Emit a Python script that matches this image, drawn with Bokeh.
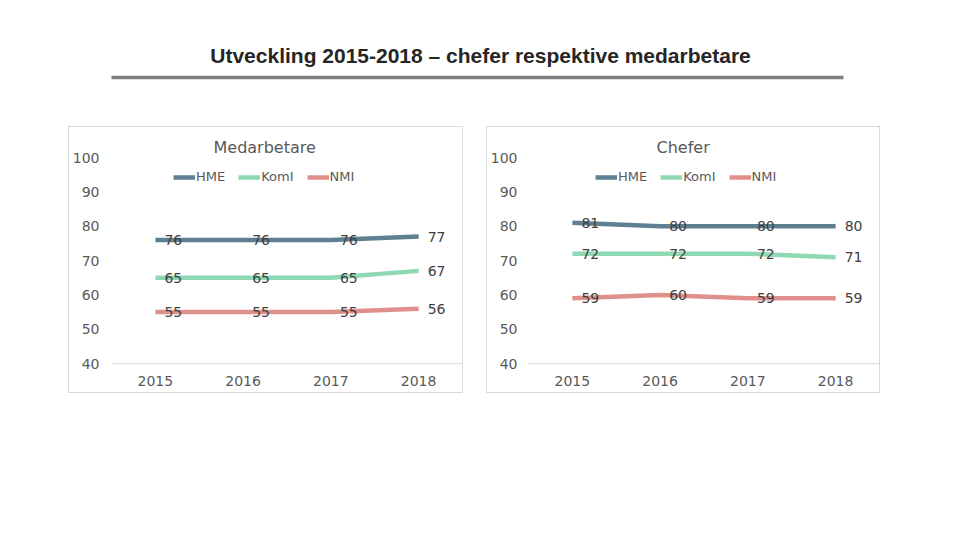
from bokeh.plotting import figure
from bokeh.models import (Range1d, FactorRange, FixedTicker, Legend, LegendItem,
                          Label, Spacer, Title, ColumnDataSource, Span)
from bokeh.layouts import column, row
from bokeh.core.properties import value
from bokeh.embed import file_html
from bokeh.resources import INLINE

# ---------------- data ----------------
years = ["2015", "2016", "2017", "2018"]
series_names = ["HME", "KomI", "NMI"]
medarbetare_hme = [76, 76, 76, 77]
medarbetare_komi = [65, 65, 65, 67]
medarbetare_nmi = [55, 55, 55, 56]
chefer_hme = [81, 80, 80, 80]
chefer_komi = [72, 72, 72, 71]
chefer_nmi = [59, 60, 59, 59]
y_ticks = [40, 50, 60, 70, 80, 90, 100]

main_title = "Utveckling 2015-2018 \u2013 chefer respektive medarbetare"

colors = ["#5f7f92", "#8fd8b4", "#e0908c"]
FONT = "DejaVu Sans"
GRID = "#d9d9d9"
TXT = "#595959"
H = 265  # inner canvas height (box border adds 2px)


def make_chart(title, series, width, left_border, legend_x, title_offset, ystandoff):
    p = figure(width=width, height=H, x_range=FactorRange(*years, range_padding=0),
               y_range=Range1d(38, 100), output_backend="svg", toolbar_location=None,
               min_border_left=left_border, min_border_right=0,
               min_border_top=30, min_border_bottom=22, outline_line_color=None,
               background_fill_color="white", border_fill_color="white")
    p.title = Title(text=title, align="left", offset=title_offset, text_font=FONT,
                    text_font_size="16px", text_color=TXT, text_font_style="normal",
                    standoff=2)
    p.grid.visible = False
    # x axis (line drawn as span at the lowest tick value)
    p.xaxis.axis_line_color = None
    p.xaxis.major_tick_line_color = None
    p.xaxis.minor_tick_line_color = None
    p.xaxis.major_tick_out = 0
    p.xaxis.major_tick_in = 0
    p.xaxis.major_label_text_font = FONT
    p.xaxis.major_label_text_font_size = "14px"
    p.xaxis.major_label_text_color = TXT
    p.xaxis.major_label_standoff = 5
    p.add_layout(Span(location=y_ticks[0], dimension="width", line_color=GRID,
                      line_width=1))
    # y axis
    p.yaxis.ticker = FixedTicker(ticks=y_ticks)
    p.yaxis.axis_line_color = None
    p.yaxis.major_tick_line_color = None
    p.yaxis.minor_tick_line_color = None
    p.yaxis.major_tick_out = 0
    p.yaxis.major_tick_in = 0
    p.yaxis.major_label_text_font = FONT
    p.yaxis.major_label_text_font_size = "14px"
    p.yaxis.major_label_text_color = TXT
    p.yaxis.major_label_standoff = ystandoff

    items = []
    for name, vals, col in zip(series_names, series, colors):
        src = ColumnDataSource(dict(x=years, y=vals, t=[str(v) for v in vals]))
        r = p.line("x", "y", source=src, line_color=col, line_width=4.5)
        p.text("x", "y", text="t", source=src, x_offset=9, text_align="left",
               text_baseline="middle", text_font=value(FONT), text_font_size="14px",
               text_color="#404040")
        items.append(LegendItem(label=name, renderers=[r]))
    leg = Legend(items=items, orientation="horizontal", location=(legend_x, 186),
                 glyph_width=22, glyph_height=14, label_height=14, label_standoff=1,
                 spacing=13, padding=0, margin=0, border_line_alpha=0,
                 background_fill_alpha=0, label_text_font=FONT,
                 label_text_font_size="13px", label_text_color=TXT)
    p.add_layout(leg)
    return p


def boxed(p, w):
    bg = {"background-color": GRID}
    return column(Spacer(width=w + 2, height=1, styles=bg),
                  row(Spacer(width=1, height=H, styles=bg), p,
                      Spacer(width=1, height=H, styles=bg)),
                  Spacer(width=w + 2, height=1, styles=bg))


left = make_chart("Medarbetare", [medarbetare_hme, medarbetare_komi, medarbetare_nmi],
                  393, 39, 62, 102, 12)
right = make_chart("Chefer", [chefer_hme, chefer_komi, chefer_nmi], 392, 38, 67, 128, 11)

top = figure(width=960, height=126, x_range=Range1d(0, 960), y_range=Range1d(0, 126),
             output_backend="svg", toolbar_location=None, x_axis_type=None,
             y_axis_type=None, min_border=0, outline_line_color=None)
top.grid.visible = False
top.add_layout(Label(x=480, y=71, text=main_title, text_align="center",
                     text_baseline="middle", text_font="Liberation Sans",
                     text_font_style="bold", text_font_size="21px",
                     text_color="#262626"))
top.segment(x0=[111], y0=[49], x1=[843], y1=[49], line_color="#808080", line_width=3.5)

layout = column(top, row(Spacer(width=68, height=H + 2), boxed(left, 393),
                         Spacer(width=23, height=H + 2), boxed(right, 392)))

open("out.html", "w").write(file_html(layout, INLINE))
